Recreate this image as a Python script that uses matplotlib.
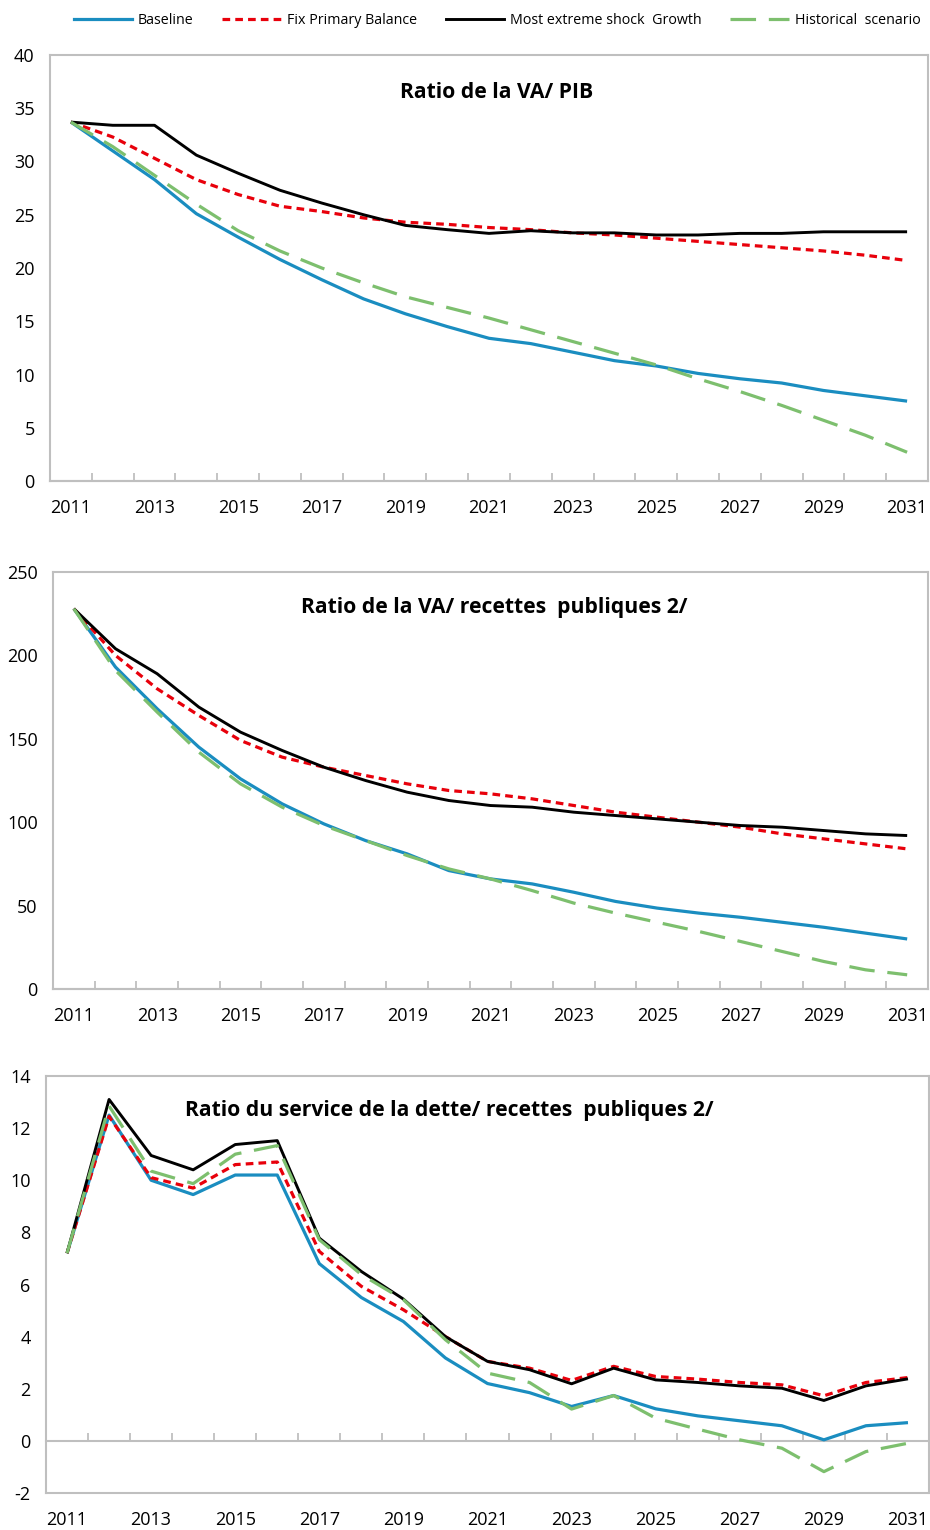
import numpy as np
import matplotlib
matplotlib.use("Agg")
import matplotlib.pyplot as plt
from matplotlib.lines import Line2D

plt.rcParams["font.family"] = ["Open Sans", "DejaVu Sans"]

years = list(range(2011, 2032))

# Ratio de la VA/ PIB
va_pib_baseline = [33.7, 31.0, 28.3, 25.1, 22.9, 20.8, 18.9, 17.1, 15.7, 14.5, 13.4,
                   12.9, 12.1, 11.3, 10.8, 10.1, 9.6, 9.2, 8.5, 8.0, 7.5]
va_pib_fix_pb = [33.7, 32.3, 30.3, 28.3, 26.9, 25.8, 25.3, 24.7, 24.3, 24.1, 23.8,
                 23.6, 23.3, 23.1, 22.8, 22.5, 22.2, 21.9, 21.6, 21.2, 20.7]
va_pib_shock = [33.7, 33.4, 33.4, 30.6, 28.9, 27.3, 26.1, 25.0, 24.0, 23.6, 23.25,
                23.5, 23.3, 23.3, 23.1, 23.1, 23.25, 23.25, 23.4, 23.4, 23.4]
va_pib_hist = [33.7, 31.4, 28.7, 26.0, 23.5, 21.6, 20.0, 18.6, 17.3, 16.3, 15.3,
               14.2, 13.1, 12.0, 10.9, 9.6, 8.4, 7.1, 5.7, 4.3, 2.7]

# Ratio de la VA/ recettes publiques
va_rec_baseline = [228, 193, 168, 145, 126, 111, 99, 89, 81, 71, 66,
                   63, 58, 52.5, 48.5, 45.5, 43, 40, 37, 33.5, 30]
va_rec_fix_pb = [228, 200, 180, 164, 149, 139, 133, 128, 123, 119, 117,
                 114, 110, 106, 103, 100, 97, 93, 90, 87, 84]
va_rec_shock = [228, 204, 189, 169, 154, 143, 133, 125, 118, 113, 110,
                109, 106, 104, 102, 100, 98, 97, 95, 93, 92]
va_rec_hist = [228, 191, 166, 142, 123, 109, 98, 89, 80, 72, 66,
               59, 51.5, 45.5, 40, 34.5, 28.5, 22.5, 16.5, 11.5, 8.5]

# Ratio du service de la dette/ recettes publiques
sd_rec_baseline = [7.2, 12.5, 10.0, 9.45, 10.2, 10.2, 6.8, 5.5, 4.58, 3.18, 2.2,
                   1.85, 1.32, 1.74, 1.23, 0.96, 0.77, 0.58, 0.04, 0.58, 0.7]
sd_rec_fix_pb = [7.2, 12.45, 10.1, 9.7, 10.6, 10.7, 7.27, 5.93, 5.03, 4.0, 3.05,
                 2.79, 2.32, 2.86, 2.47, 2.37, 2.24, 2.15, 1.73, 2.24, 2.43]
sd_rec_shock = [7.2, 13.1, 10.95, 10.4, 11.37, 11.52, 7.78, 6.5, 5.44, 4.0, 3.05,
                2.73, 2.19, 2.79, 2.34, 2.24, 2.11, 2.02, 1.55, 2.11, 2.38]
sd_rec_hist = [7.2, 12.85, 10.35, 9.87, 11.0, 11.33, 7.72, 6.38, 5.42, 3.88, 2.6,
               2.24, 1.22, 1.74, 0.87, 0.45, 0.04, -0.28, -1.18, -0.41, -0.09]

labels = ["Baseline", "Fix Primary Balance", "Most extreme shock  Growth", "Historical  scenario"]
styles = [
    dict(color="#1A8DC0", lw=2.3, ls="-"),
    dict(color="#E8000B", lw=2.3, ls=(0, (2.4, 1.6))),
    dict(color="black", lw=2.1, ls="-"),
    dict(color="#7DBF6E", lw=2.3, ls=(0, (8.0, 4.0))),
]
GRAY = "#BFBFBF"

panels = [
    dict(title="Ratio de la VA/ PIB",
         series=[va_pib_baseline, va_pib_fix_pb, va_pib_shock, va_pib_hist],
         ylim=(0, 40), yticks=range(0, 41, 5),
         rect=[50 / 930, 1 - 481 / 1530, 878 / 930, 426 / 1530], tpos=(0.509, 0.913)),
    dict(title="Ratio de la VA/ recettes  publiques 2/",
         series=[va_rec_baseline, va_rec_fix_pb, va_rec_shock, va_rec_hist],
         ylim=(0, 250), yticks=range(0, 251, 50),
         rect=[53 / 930, 1 - 989 / 1530, 875 / 930, 417 / 1530], tpos=(0.504, 0.916)),
    dict(title="Ratio du service de la dette/ recettes  publiques 2/",
         series=[sd_rec_baseline, sd_rec_fix_pb, sd_rec_shock, sd_rec_hist],
         ylim=(-2, 14), yticks=range(-2, 15, 2),
         rect=[46 / 930, 1 - 1493 / 1530, 883 / 930, 417 / 1530], tpos=(0.457, 0.918)),
]

fig = plt.figure(figsize=(9.3, 15.3), dpi=100)
x = np.arange(len(years))

for p in panels:
    ax = fig.add_axes(p["rect"])
    for vals, st in zip(p["series"], styles):
        ax.plot(x, vals, solid_capstyle="butt", dash_capstyle="butt", **st)
    ax.set_xlim(-0.5, len(years) - 0.5)
    ax.set_ylim(*p["ylim"])
    ax.set_yticks(list(p["yticks"]))
    ax.set_yticklabels([str(v) for v in p["yticks"]])
    for s in ax.spines.values():
        s.set_color(GRAY)
        s.set_linewidth(1.5)
    ax.tick_params(axis="y", length=0, pad=11, labelsize=13)
    ax.set_xticks(x[::2])
    ax.set_xticklabels([str(y) for y in years[::2]])
    ax.tick_params(axis="x", length=0, pad=13, labelsize=13)

    # category boundary ticks on the axis line at zero
    y0 = p["ylim"][0]
    frac = (0 - y0) / (p["ylim"][1] - y0)
    sec = ax.secondary_xaxis(frac)
    sec.set_xticks(np.arange(0.5, len(years) - 0.5, 1.0))
    sec.tick_params(axis="x", direction="in", length=6, width=1.3, color=GRAY,
                    labelbottom=False, labeltop=False, bottom=True, top=False)
    sec.spines["bottom"].set_color(GRAY)
    sec.spines["bottom"].set_linewidth(1.5)
    sec.spines["top"].set_visible(False)
    sec.spines["bottom"].set_visible(True)

    ax.text(*p["tpos"], p["title"], transform=ax.transAxes, ha="center", va="center",
            fontsize=15.2, fontweight="bold")

handles = [Line2D([], [], **st) for st in styles]
fig.legend(handles, labels, loc="center", bbox_to_anchor=(497 / 930, 1 - 21 / 1530),
           ncol=4, frameon=False, fontsize=10.3, handlelength=4.1, columnspacing=2.0,
           handletextpad=0.4, borderaxespad=0)

fig.savefig("out.png", dpi=100)
